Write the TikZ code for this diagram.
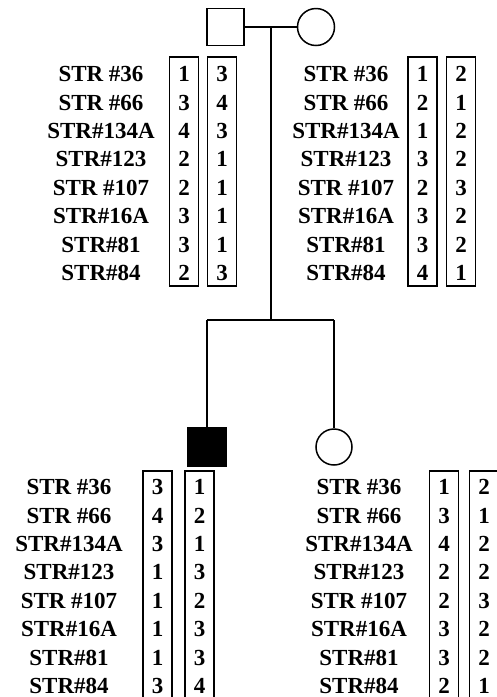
\documentclass[tikz,border=0pt]{standalone}
\usepackage{fontspec}
\setmainfont{Liberation Serif}
\newcommand\rowsp{28.4}
\newcommand\strlist{STR \#36,STR \#66,STR\#134A,STR\#123,STR \#107,STR\#16A,STR\#81,STR\#84}
\begin{document}
\begin{tikzpicture}[x=1pt,y=-1pt,line width=1.5pt,
  lab/.style={font=\fontsize{23}{26}\selectfont\bfseries,anchor=base,inner sep=0pt},
  num/.style={font=\fontsize{23}{26}\selectfont\bfseries,anchor=base,inner sep=0pt},
  allelebox/.style={draw,line width=1.4pt,minimum width=29pt,inner sep=0pt},
  topbox/.style={allelebox,minimum height=229pt},
  botbox/.style={allelebox,minimum height=239pt},
  male/.style={draw,rectangle,minimum width=37pt,minimum height=37pt,inner sep=0pt},
  female/.style={draw,circle,minimum size=37pt,inner sep=0pt},
  affected/.style={fill=black}]
\clip (0,0) rectangle (497,697);
% pedigree symbols
\node[male] (F) at (225.5,27) {};
\node[female] (M) at (316,27) {};
\node[male,affected,minimum width=38pt,minimum height=38pt] (S) at (207,447) {};
\node[female,minimum size=36pt] (D) at (334,447) {};
\coordinate (mm) at (271,27);
\coordinate (sib) at (271,320);
\coordinate (sl) at (207,320);
\coordinate (sr) at (334,320);
\draw (F.east) -- (M.west);
\draw (mm) -- (sib);
\draw (sl) -- (sr);
\draw (sl) -- (S.north);
\draw (sr) -- (D.north);
% allele boxes
\node[topbox] (fb1) at (184,171.5) {};
\node[topbox] (fb2) at (222,171.5) {};
\node[topbox] (mb1) at (422.5,171.5) {};
\node[topbox] (mb2) at (461,171.5) {};
\node[botbox] (sb1) at (157.5,590.5) {};
\node[botbox] (sb2) at (199.5,590.5) {};
\node[botbox] (db1) at (444,590.5) {};
\node[botbox] (db2) at (484,590.5) {};
% labels
\foreach \t [count=\i] in \strlist {
  \node[lab] (fl\i) at (101,{81.6+\rowsp*(\i-1)}) {\t};
  \node[lab] (ml\i) at (346,{81.6+\rowsp*(\i-1)}) {\t};
  \node[lab] (sl\i) at (69,{494.6+\rowsp*(\i-1)}) {\t};
  \node[lab] (dl\i) at (359,{494.6+\rowsp*(\i-1)}) {\t};
}
% father alleles
\foreach \v [count=\i] in {1,3,4,2,2,3,3,2}
  \node[num] (fa\i) at (184,{81.6+\rowsp*(\i-1)}) {\v};
\foreach \v [count=\i] in {3,4,3,1,1,1,1,3}
  \node[num] (fc\i) at (222,{81.6+\rowsp*(\i-1)}) {\v};
% mother alleles
\foreach \v [count=\i] in {1,2,1,3,2,3,3,4}
  \node[num] (ma\i) at (422.5,{81.6+\rowsp*(\i-1)}) {\v};
\foreach \v [count=\i] in {2,1,2,2,3,2,2,1}
  \node[num] (mc\i) at (461,{81.6+\rowsp*(\i-1)}) {\v};
% son alleles
\foreach \v [count=\i] in {3,4,3,1,1,1,1,3}
  \node[num] (sa\i) at (157.5,{494.6+\rowsp*(\i-1)}) {\v};
\foreach \v [count=\i] in {1,2,1,3,2,3,3,4}
  \node[num] (sc\i) at (199.5,{494.6+\rowsp*(\i-1)}) {\v};
% daughter alleles
\foreach \v [count=\i] in {1,3,4,2,2,3,3,2}
  \node[num] (da\i) at (444,{494.6+\rowsp*(\i-1)}) {\v};
\foreach \v [count=\i] in {2,1,2,2,3,2,2,1}
  \node[num] (dc\i) at (484,{494.6+\rowsp*(\i-1)}) {\v};
\end{tikzpicture}
\end{document}
